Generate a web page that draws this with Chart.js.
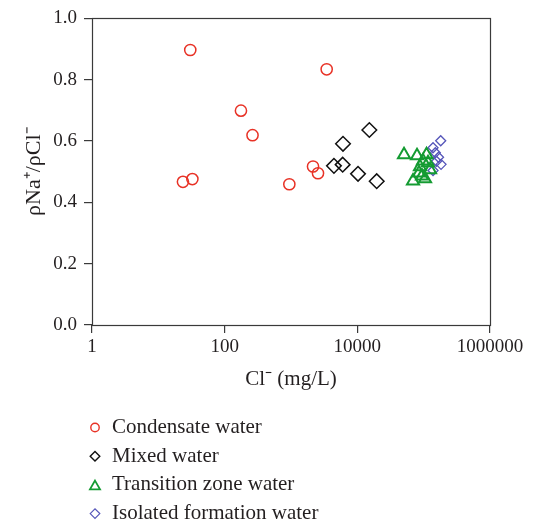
<!DOCTYPE html>
<html>
<head>
<meta charset="utf-8">
<script src="https://cdn.jsdelivr.net/npm/chart.js@4.4.1/dist/chart.umd.min.js"></script>
<style>
  html, body { margin: 0; padding: 0; background: #ffffff; }
  #wrap { width: 533px; height: 525px; }
</style>
</head>
<body>
<div id="wrap"><canvas id="c" width="533" height="525"></canvas></div>
<script>
// ---- data ----
const seriesNames = ["Condensate water", "Mixed water", "Transition zone water", "Isolated formation water"];

const condensateCl = [30.3, 3450, 176, 263, 23.5, 32.6, 944, 2148, 2553];
const condensateRatio = [0.897, 0.834, 0.699, 0.619, 0.467, 0.476, 0.459, 0.517, 0.495];

const mixedCl = [15170, 6080, 4440, 6010, 10240, 19590];
const mixedRatio = [0.636, 0.591, 0.519, 0.523, 0.493, 0.469];

const transitionCl = [50580, 79400, 110400, 97700, 116300, 88100, 85100, 69100, 104800, 124700, 94400];
const transitionRatio = [0.555, 0.552, 0.555, 0.535, 0.529, 0.516, 0.496, 0.470, 0.477, 0.506, 0.486];

const isolatedCl = [180700, 138400, 149900, 167500, 182700, 138400, 156200];
const isolatedRatio = [0.601, 0.578, 0.562, 0.547, 0.524, 0.504, 0.534];

const xTickValues = [1, 100, 10000, 1000000];
const xTickLabels = ["1", "100", "10000", "1000000"];
const yTickValues = [0, 0.2, 0.4, 0.6, 0.8, 1.0];

// ---- helpers ----
function pts(xs, ys) { return xs.map((x, i) => ({ x: x, y: ys[i] })); }

const FONT = "'Liberation Serif', 'Times New Roman', serif";
const TEXT = '#231f20';
const AXIS = '#3a3a3a';

const legendMarkers = [
  { style: 'circle', r: 4.2, color: 'rgb(232,50,38)', lw: 1.4 },
  { style: 'rectRot', r: 4.8, color: '#111111', lw: 1.4 },
  { style: 'triangle', r: 5.8, color: 'rgb(20,155,50)', lw: 1.8 },
  { style: 'rectRot', r: 4.8, color: 'rgb(85,85,185)', lw: 1.2 }
];

function drawMarker(ctx, style, x, y, r) {
  ctx.beginPath();
  if (style === 'circle') {
    ctx.arc(x, y, r, 0, Math.PI * 2);
  } else if (style === 'rectRot') {
    ctx.moveTo(x - r, y); ctx.lineTo(x, y - r); ctx.lineTo(x + r, y); ctx.lineTo(x, y + r);
    ctx.closePath();
  } else if (style === 'triangle') {
    let a = 0;
    ctx.moveTo(x + Math.sin(a) * r, y - Math.cos(a) * r);
    a += Math.PI * 2 / 3;
    ctx.lineTo(x + Math.sin(a) * r, y - Math.cos(a) * r);
    a += Math.PI * 2 / 3;
    ctx.lineTo(x + Math.sin(a) * r, y - Math.cos(a) * r);
    ctx.closePath();
  }
  ctx.stroke();
}

const framePlugin = {
  id: 'frame',
  afterDatasetsDraw(chart) {
    const ca = chart.chartArea, ctx = chart.ctx;
    ctx.save();
    ctx.strokeStyle = AXIS;
    ctx.lineWidth = 1.2;
    ctx.strokeRect(Math.round(ca.left) + 0.5, Math.round(ca.top) + 0.5,
                   Math.round(ca.right - ca.left), Math.round(ca.bottom - ca.top));
    ctx.restore();
  }
};

const legendPlugin = {
  id: 'stackLegend',
  afterDraw(chart) {
    const ctx = chart.ctx;
    ctx.save();
    ctx.font = '21px ' + FONT;
    ctx.fillStyle = TEXT;
    ctx.textBaseline = 'middle';
    ctx.textAlign = 'left';
    chart.data.datasets.forEach((ds, i) => {
      const y = 427.5 + i * 28.7;
      const m = legendMarkers[i];
      ctx.strokeStyle = m.color;
      ctx.lineWidth = m.lw;
      drawMarker(ctx, m.style, 95, m.style === 'triangle' ? y + 1.5 : y, m.r);
      ctx.fillText(ds.label, 112, y);
    });
    ctx.restore();
  }
};

new Chart(document.getElementById('c'), {
  type: 'scatter',
  data: {
    datasets: [
      { label: seriesNames[0], data: pts(condensateCl, condensateRatio), pointStyle: 'circle',
        pointRadius: 5.6, borderColor: 'rgb(232,50,38)', backgroundColor: 'rgba(0,0,0,0)', borderWidth: 1.5 },
      { label: seriesNames[1], data: pts(mixedCl, mixedRatio), pointStyle: 'rectRot',
        pointRadius: 7.3, borderColor: '#111111', backgroundColor: 'rgba(0,0,0,0)', borderWidth: 1.5 },
      { label: seriesNames[2], data: pts(transitionCl, transitionRatio), pointStyle: 'triangle',
        pointRadius: 7, borderColor: 'rgb(20,155,50)', backgroundColor: 'rgba(0,0,0,0)', borderWidth: 2 },
      { label: seriesNames[3], data: pts(isolatedCl, isolatedRatio), pointStyle: 'rectRot',
        pointRadius: 5, borderColor: 'rgb(85,85,185)', backgroundColor: 'rgba(0,0,0,0)', borderWidth: 1.3 }
    ]
  },
  options: {
    responsive: false,
    animation: false,
    layout: { padding: { top: 18, right: 43, bottom: 125, left: 0 } },
    plugins: {
      legend: { display: false },
      tooltip: { enabled: false }
    },
    scales: {
      x: {
        type: 'logarithmic',
        min: 1, max: 1000000,
        afterBuildTicks(scale) { scale.ticks = xTickValues.map(v => ({ value: v })); },
        afterFit(scale) { scale.height = 75; },
        ticks: {
          autoSkip: false, maxRotation: 0, padding: 3,
          color: TEXT, font: { family: FONT, size: 19 },
          callback(value) { const i = xTickValues.indexOf(value); return i >= 0 ? xTickLabels[i] : ''; }
        },
        grid: { drawOnChartArea: false, drawTicks: true, tickLength: 8, color: AXIS, lineWidth: 1.2 },
        border: { display: false },
        title: { display: true, text: 'Cl\u207B (mg/L)', color: TEXT,
                 font: { family: FONT, size: 21 }, padding: { top: 0, bottom: 8 } }
      },
      y: {
        type: 'linear',
        min: 0, max: 1,
        afterBuildTicks(scale) { scale.ticks = yTickValues.map(v => ({ value: v })); },
        afterFit(scale) { scale.width = 92; },
        ticks: {
          padding: 7, color: TEXT, font: { family: FONT, size: 19 },
          callback(value) { return Number(value).toFixed(1); }
        },
        grid: { drawOnChartArea: false, drawTicks: true, tickLength: 8, color: AXIS, lineWidth: 1.2 },
        border: { display: false },
        title: { display: true, text: '\u03C1Na\u207A/\u03C1Cl\u207B', color: TEXT,
                 font: { family: FONT, size: 22 }, padding: { top: 21, bottom: 0 } }
      }
    }
  },
  plugins: [framePlugin, legendPlugin]
});
</script>
</body>
</html>
